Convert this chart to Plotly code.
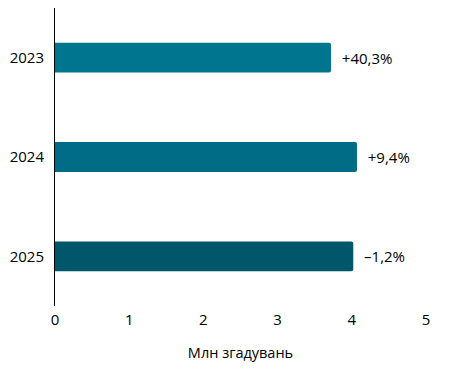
import plotly.graph_objects as go

years = ["2023", "2024", "2025"]
values = [3.72, 4.07, 4.02]
changes = ["+40,3%", "+9,4%", "–1,2%"]
colors = ["#00758F", "#006C86", "#01566A"]
x_ticks = [0, 1, 2, 3, 4, 5]

font = "Open Sans, Lato, sans-serif"

fig = go.Figure(go.Bar(
    y=years, x=values, orientation="h",
    marker=dict(color=colors, cornerradius=2, line=dict(width=0)),
    width=0.3,
    text=["  " + c for c in changes], textposition="outside",
    textfont=dict(family=font, size=15, color="#000"),
    cliponaxis=False,
))

fig.update_layout(
    width=449, height=372,
    margin=dict(l=55, r=23, t=8, b=66),
    paper_bgcolor="white", plot_bgcolor="white",
    showlegend=False,
    font=dict(family=font, size=14, color="#000"),
    xaxis=dict(range=[0, 5], tickvals=x_ticks, showgrid=False, zeroline=False,
               showline=False, ticks="", tickfont=dict(size=15), ticklabelstandoff=3,
               automargin=False,
               title=dict(text="Млн згадувань", standoff=19, font=dict(size=14.5))),
    yaxis=dict(autorange="reversed", showgrid=False, zeroline=False,
               showline=True, linecolor="#000", linewidth=1, ticks="",
               automargin=False,
               tickfont=dict(size=15), ticklabelstandoff=7),
)

fig.write_html("out.html", config={"displayModeBar": False},
               post_script="document.body.style.margin='0';")
